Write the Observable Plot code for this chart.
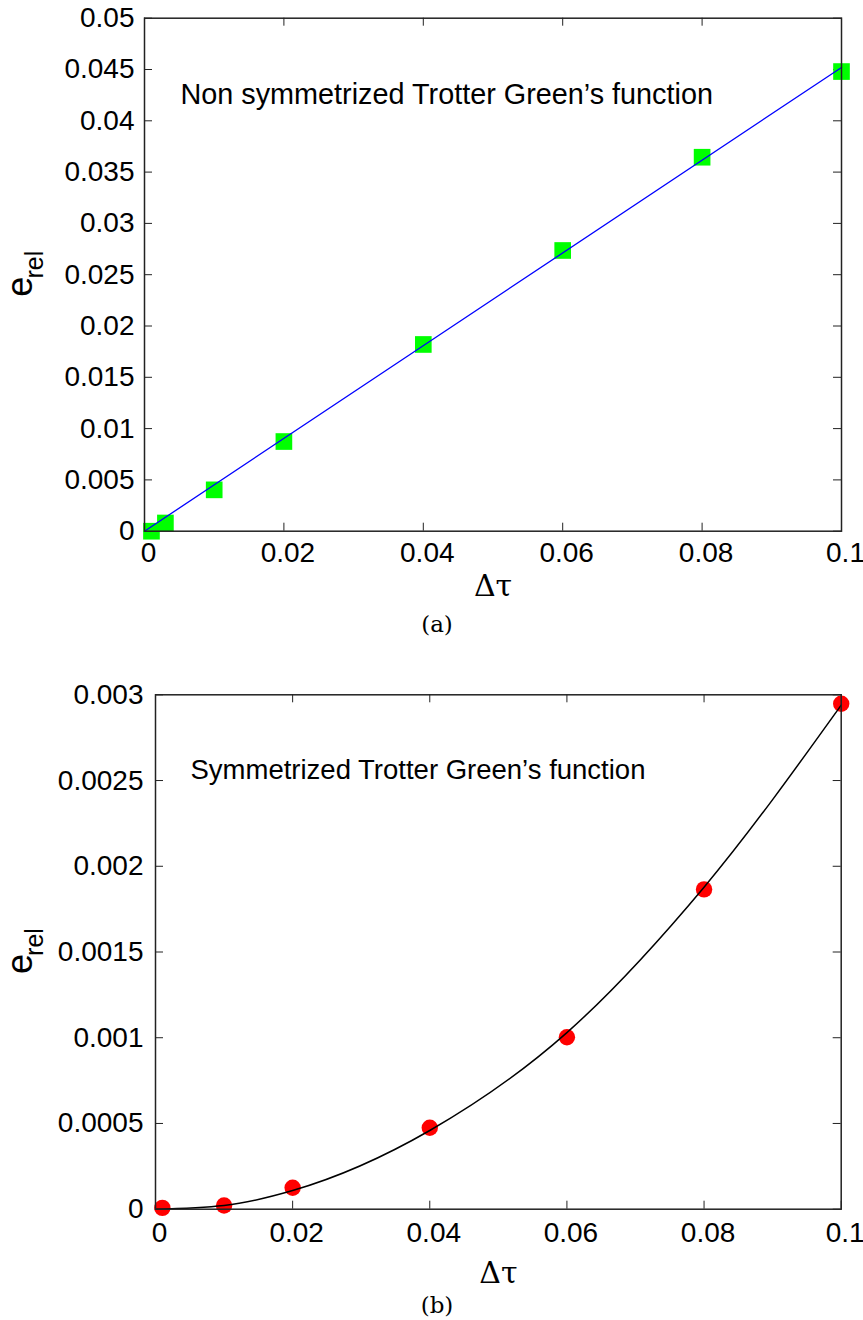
<!DOCTYPE html>
<html>
<head>
<meta charset="utf-8">
<script src="https://cdn.jsdelivr.net/npm/d3@7"></script>
<script src="https://cdn.jsdelivr.net/npm/@observablehq/plot@0.6"></script>
<style>
  body { margin: 0; background: #fff; }
  #page { position: relative; width: 863px; height: 1320px; }
  .panel { position: absolute; left: 0; }
  .caption { position: absolute; width: 80px; text-align: center; font-family: "DejaVu Serif", serif; font-size: 23px; color: #000; }
</style>
</head>
<body>
<div id="page">
  <div id="panelA" class="panel" style="top:0px"></div>
  <div class="caption" style="top:611px; left:397px">(a)</div>
  <div id="panelB" class="panel" style="top:640px"></div>
  <div class="caption" style="top:1292px; left:397px">(b)</div>
</div>
<script>
// ---- Panel (a): non symmetrized Trotter decomposition ----
const dtauA = [0.001, 0.003, 0.01, 0.02, 0.04, 0.06, 0.08, 0.1];
const erelA = [0, 0.0008, 0.00403, 0.00874, 0.0182, 0.02736, 0.03645, 0.0448];
// linear fit through the origin
const fitDtauA = [0, 0.1];
const fitErelA = [0, 0.0452];
const xTicksA = [0, 0.02, 0.04, 0.06, 0.08, 0.1];
const xTickLabelsA = ["0", "0.02", "0.04", "0.06", "0.08", "0.1"];
const yTicksA = [0, 0.005, 0.01, 0.015, 0.02, 0.025, 0.03, 0.035, 0.04, 0.045, 0.05];
const yTickLabelsA = ["0", "0.005", "0.01", "0.015", "0.02", "0.025", "0.03", "0.035", "0.04", "0.045", "0.05"];
const titleA = "Non symmetrized Trotter Green\u2019s function";

// ---- Panel (b): symmetrized Trotter decomposition ----
const dtauB = [0.001, 0.01, 0.02, 0.04, 0.06, 0.08, 0.1];
const erelB = [0.000008, 0.0000216, 0.000125, 0.000475, 0.001003, 0.001865, 0.002948];
// fit curve, sampled along its path
const fitDtauB = [0, 0.01, 0.02, 0.04, 0.06, 0.08, 0.1];
const fitErelB = [0, 0.000022, 0.000109, 0.000459, 0.00103, 0.001878, 0.00294];
const xTicksB = [0, 0.02, 0.04, 0.06, 0.08, 0.1];
const xTickLabelsB = ["0", "0.02", "0.04", "0.06", "0.08", "0.1"];
const yTicksB = [0, 0.0005, 0.001, 0.0015, 0.002, 0.0025, 0.003];
const yTickLabelsB = ["0", "0.0005", "0.001", "0.0015", "0.002", "0.0025", "0.003"];
const titleB = "Symmetrized Trotter Green\u2019s function";

const xLabel = "\u0394\u03c4";
const yLabelMain = "e";
const yLabelSub = "rel";

const sans = "'Liberation Sans', Arial, Helvetica, sans-serif";
const TICK = 8;

function panel(cfg) {
  const fw = cfg.width - cfg.marginLeft - cfg.marginRight;
  const fh = cfg.height - cfg.marginTop - cfg.marginBottom;
  const pts = cfg.px.map((x, i) => ({x, y: cfg.py[i]}));
  const fit = cfg.fx.map((x, i) => ({x, y: cfg.fy[i]}));
  const fmtX = d => cfg.xLabels[cfg.xTicks.indexOf(d)];
  const fmtY = d => cfg.yLabels[cfg.yTicks.indexOf(d)];
  return Plot.plot({
    width: cfg.width,
    height: cfg.height,
    marginLeft: cfg.marginLeft,
    marginRight: cfg.marginRight,
    marginTop: cfg.marginTop,
    marginBottom: cfg.marginBottom,
    style: {fontFamily: sans, background: "#fff", color: "#000", overflow: "visible"},
    x: {domain: [0, 0.1], label: null},
    y: {domain: [0, cfg.yTicks[cfg.yTicks.length - 1]], label: null},
    marks: [
      // tick marks pointing inward on all four sides
      Plot.tickX(cfg.xTicks, {x: d => d, insetTop: fh - TICK, stroke: "#222", strokeWidth: 1}),
      Plot.tickX(cfg.xTicks, {x: d => d, insetBottom: fh - TICK, stroke: "#222", strokeWidth: 1}),
      Plot.tickY(cfg.yTicks, {y: d => d, insetRight: fw - TICK, stroke: "#222", strokeWidth: 1}),
      Plot.tickY(cfg.yTicks, {y: d => d, insetLeft: fw - TICK, stroke: "#222", strokeWidth: 1}),
      Plot.axisX(cfg.xTicks, {tickSize: 0, tickPadding: cfg.xPad, tickFormat: fmtX, fontSize: 28, dx: 4, label: null}),
      Plot.axisY(cfg.yTicks, {tickSize: 0, tickPadding: cfg.yPad, tickFormat: fmtY, fontSize: 28, label: null}),
      cfg.pointMark(pts),
      Plot.line(fit, {x: "x", y: "y", stroke: cfg.lineColor, strokeWidth: cfg.lineWidth, curve: cfg.curve}),
      Plot.frame({stroke: "#222", strokeWidth: 1.5}),
      Plot.text([cfg.title], {frameAnchor: "top-left", dx: cfg.titleDx, dy: cfg.titleDy, textAnchor: "start", lineAnchor: "middle", fontSize: cfg.titleSize, fill: "#000"}),
      Plot.text([xLabel], {frameAnchor: "bottom", dy: cfg.xLabelDy, lineAnchor: "middle", fontSize: 30, fontFamily: "'DejaVu Serif', serif", fill: "#000"}),
      Plot.text([yLabelMain], {frameAnchor: "left", rotate: -90, dx: cfg.eDx, dy: 12, textAnchor: "middle", lineAnchor: "middle", fontSize: 36, fill: "#000"}),
      Plot.text([yLabelSub], {frameAnchor: "left", rotate: -90, dx: cfg.eDx + 14, dy: -10, textAnchor: "middle", lineAnchor: "middle", fontSize: 25, fill: "#000"})
    ]
  });
}

document.getElementById("panelA").append(panel({
  width: 863, height: 610,
  marginLeft: 144, marginRight: 22, marginTop: 17.7, marginBottom: 610 - 530.7,
  px: dtauA, py: erelA, fx: fitDtauA, fy: fitErelA,
  xTicks: xTicksA, xLabels: xTickLabelsA, yTicks: yTicksA, yLabels: yTickLabelsA,
  xPad: 11, yPad: 10,
  pointMark: d => Plot.dot(d, {x: "x", y: "y", symbol: "square", r: 9.4, fill: "#00ff00", stroke: "none"}),
  lineColor: "#0000ff", lineWidth: 1.3, curve: "linear",
  title: titleA, titleSize: 28.8, titleDx: 36, titleDy: 76.3,
  xLabelDy: 55, eDx: -124
}));

document.getElementById("panelB").append(panel({
  width: 863, height: 680,
  marginLeft: 155, marginRight: 22.3, marginTop: 694.3 - 640, marginBottom: 680 - (1208.7 - 640),
  px: dtauB, py: erelB, fx: fitDtauB, fy: fitErelB,
  xTicks: xTicksB, xLabels: xTickLabelsB, yTicks: yTicksB, yLabels: yTickLabelsB,
  xPad: 13, yPad: 12,
  pointMark: d => Plot.dot(d, {x: "x", y: "y", r: 8.2, fill: "#ff0000", stroke: "none"}),
  lineColor: "#000", lineWidth: 1.5, curve: "monotone-x",
  title: titleB, titleSize: 27.5, titleDx: 35, titleDy: 75.7,
  xLabelDy: 64, eDx: -135
}));
</script>
</body>
</html>
